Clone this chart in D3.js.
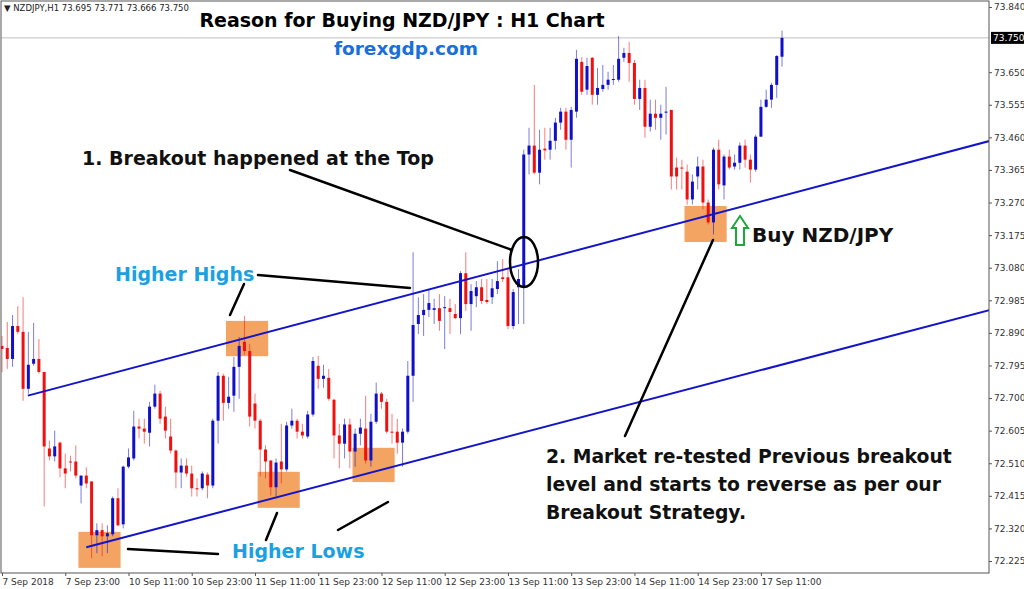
<!DOCTYPE html>
<html><head><meta charset="utf-8">
<script src="https://cdn.jsdelivr.net/npm/d3@7"></script>
<style>body{margin:0;background:#fff}svg{display:block}</style>
</head><body><svg id="c" width="1024" height="589"></svg>
<script>
const open=[72.852,72.846,72.814,72.910,72.893,72.727,72.800,72.814,72.776,72.553,72.530,72.570,72.495,72.515,72.515,72.445,72.474,72.457,72.300,72.315,72.297,72.303,72.408,72.332,72.500,72.524,72.617,72.611,72.599,72.675,72.713,72.646,72.588,72.547,72.483,72.503,72.480,72.437,72.437,72.477,72.445,72.634,72.765,72.686,72.707,72.791,72.864,72.837,72.684,72.634,72.550,72.518,72.440,72.515,72.492,72.620,72.634,72.602,72.588,72.652,72.794,72.756,72.759,72.695,72.591,72.567,72.623,72.544,72.596,72.611,72.518,72.631,72.713,72.689,72.602,72.602,72.570,72.602,72.765,72.916,72.942,72.957,72.957,72.962,72.962,72.962,72.945,72.933,73.064,72.974,72.997,73.023,72.986,72.994,73.018,73.052,73.052,72.910,73.023,73.026,73.410,73.436,73.357,73.427,73.424,73.450,73.503,73.535,73.453,73.535,73.680,73.599,73.692,73.584,73.601,73.613,73.628,73.628,73.692,73.706,73.677,73.572,73.604,73.491,73.529,73.517,73.532,73.540,73.372,73.372,73.360,73.279,73.346,73.375,73.270,73.212,73.424,73.320,73.404,73.375,73.386,73.436,73.395,73.366,73.462,73.549,73.570,73.613,73.695];
const close=[72.843,72.814,72.910,72.893,72.727,72.797,72.814,72.776,72.559,72.530,72.559,72.495,72.480,72.513,72.474,72.474,72.451,72.300,72.315,72.297,72.306,72.408,72.329,72.500,72.527,72.617,72.611,72.602,72.675,72.713,72.640,72.605,72.547,72.483,72.503,72.480,72.437,72.435,72.480,72.445,72.634,72.765,72.686,72.704,72.791,72.852,72.837,72.646,72.634,72.550,72.515,72.440,72.512,72.492,72.620,72.634,72.602,72.591,72.652,72.808,72.756,72.765,72.698,72.591,72.567,72.623,72.544,72.596,72.614,72.518,72.631,72.713,72.689,72.602,72.599,72.570,72.602,72.765,72.913,72.942,72.957,72.977,72.962,72.925,72.965,72.951,72.933,73.064,72.974,73.012,73.023,72.983,72.980,73.020,73.041,73.047,72.910,73.009,73.047,73.410,73.436,73.357,73.424,73.422,73.450,73.503,73.535,73.453,73.540,73.689,73.593,73.668,73.584,73.604,73.613,73.628,73.630,73.689,73.706,73.677,73.572,73.604,73.491,73.529,73.517,73.529,73.535,73.346,73.346,73.369,73.279,73.331,73.375,73.270,73.212,73.424,73.323,73.404,73.372,73.386,73.436,73.395,73.366,73.462,73.549,73.570,73.613,73.697,73.750];
const high=[72.881,72.922,72.942,72.968,72.994,72.893,72.919,72.872,72.776,72.576,72.605,72.573,72.538,72.532,72.562,72.474,72.498,72.457,72.335,72.335,72.329,72.413,72.437,72.503,72.553,72.663,72.640,72.640,72.689,72.739,72.721,72.675,72.640,72.550,72.524,72.524,72.503,72.466,72.486,72.483,72.640,72.776,72.771,72.762,72.820,72.878,72.939,72.858,72.713,72.640,72.562,72.518,72.524,72.625,72.631,72.669,72.640,72.625,72.663,72.820,72.823,72.797,72.785,72.698,72.625,72.640,72.640,72.611,72.640,72.707,72.654,72.745,72.718,72.698,72.654,72.640,72.611,72.808,73.125,72.994,73.003,73.018,72.989,73.003,72.997,72.989,72.974,73.070,73.125,73.032,73.041,73.047,73.047,73.047,73.099,73.105,73.076,73.018,73.076,73.424,73.488,73.613,73.482,73.488,73.488,73.517,73.546,73.546,73.549,73.715,73.694,73.692,73.694,73.662,73.671,73.651,73.671,73.755,73.721,73.738,73.686,73.628,73.628,73.570,73.570,73.555,73.607,73.540,73.401,73.395,73.381,73.352,73.404,73.395,73.279,73.430,73.453,73.410,73.424,73.410,73.445,73.453,73.410,73.468,73.570,73.599,73.619,73.700,73.771];
const low=[72.776,72.785,72.791,72.887,72.692,72.713,72.794,72.771,72.384,72.518,72.515,72.469,72.437,72.486,72.466,72.393,72.437,72.233,72.248,72.239,72.248,72.297,72.326,72.320,72.495,72.518,72.582,72.567,72.559,72.669,72.625,72.582,72.538,72.437,72.437,72.471,72.413,72.413,72.431,72.408,72.437,72.567,72.634,72.669,72.660,72.698,72.826,72.617,72.611,72.471,72.466,72.416,72.413,72.451,72.486,72.611,72.582,72.582,72.582,72.646,72.727,72.730,72.692,72.524,72.495,72.524,72.495,72.500,72.562,72.509,72.500,72.625,72.669,72.596,72.567,72.538,72.500,72.596,72.689,72.887,72.881,72.936,72.916,72.896,72.843,72.887,72.930,72.887,72.954,72.896,72.965,72.974,72.974,72.974,73.003,73.038,72.901,72.901,72.916,72.916,73.352,73.352,73.323,73.395,73.395,73.424,73.482,73.424,73.372,73.517,73.584,73.584,73.555,73.555,73.593,73.599,73.613,73.622,73.680,73.622,73.555,73.540,73.459,73.477,73.482,73.453,73.468,73.308,73.308,73.308,73.264,73.264,73.308,73.250,73.206,73.177,73.308,73.279,73.366,73.366,73.366,73.372,73.328,73.360,73.462,73.546,73.546,73.575,73.666];
const priceTicks=[73.840,73.650,73.555,73.460,73.365,73.270,73.175,73.080,72.985,72.890,72.795,72.700,72.605,72.510,72.415,72.320,72.225];
const timeLabels=["7 Sep 2018","7 Sep 23:00","10 Sep 11:00","10 Sep 23:00","11 Sep 11:00","11 Sep 23:00","12 Sep 11:00","12 Sep 23:00","13 Sep 11:00","13 Sep 23:00","14 Sep 11:00","14 Sep 23:00","17 Sep 11:00"];
const lastPrice=73.750;
// channel lines: [barIndex, price]
const upperLine=[[4.9,72.707],[190,73.460]];
const lowerLine=[[16,72.265],[190,72.967]];
// highlight zones [barFrom, barTo, priceTop, priceBottom]
const zones=[[42.5,50.5,72.925,72.822],[48.5,56.5,72.485,72.380],[66.5,74.5,72.555,72.455],[14.5,22.5,72.310,72.205],[129.5,137.5,73.260,73.155]];

const svg=d3.select("#c");
const L=1,R=989,T=1,B=573;
const x=d3.scaleLinear().domain([0,148]).range([2,782]);
const y=d3.scaleLinear().domain([72.225,73.840]).range([561,7]);
const g=svg.append("g");
g.append("defs").append("clipPath").attr("id","cp").append("rect").attr("x",L).attr("y",T).attr("width",R-L).attr("height",B-T);
const P=g.append("g").attr("clip-path","url(#cp)");

P.append("line").attr("x1",L).attr("x2",R).attr("y1",y(lastPrice)).attr("y2",y(lastPrice)).attr("stroke","#c0c0c0");

zones.forEach(z=>P.append("rect").attr("x",x(z[0])).attr("width",x(z[1])-x(z[0])).attr("y",y(z[2])).attr("height",y(z[3])-y(z[2])).attr("fill","#f3a463"));

const idx=d3.range(open.length);
const col=i=>close[i]>=open[i]?"#1010c8":"#f01010";
P.selectAll("line.w").data(idx).join("line").attr("x1",i=>x(i)).attr("x2",i=>x(i)).attr("y1",i=>y(high[i])).attr("y2",i=>y(low[i])).attr("stroke",col).attr("stroke-opacity",0.55).attr("stroke-width",1);
P.selectAll("rect.b").data(idx).join("rect").attr("x",i=>x(i)-1.5).attr("width",3).attr("y",i=>y(Math.max(open[i],close[i]))).attr("height",i=>Math.max(1,Math.abs(y(open[i])-y(close[i])))).attr("fill",col);

const ln=d3.line().x(d=>x(d[0])).y(d=>y(d[1]));
[upperLine,lowerLine].forEach(l=>P.append("path").attr("d",ln(l)).attr("stroke","#1414c8").attr("stroke-width",2).attr("fill","none"));

g.append("rect").attr("x",L).attr("y",T).attr("width",R-L).attr("height",B-T).attr("fill","none").attr("stroke","#555");

const ya=g.append("g").attr("transform",`translate(${R},0)`).call(d3.axisRight(y).tickValues(priceTicks).tickFormat(d3.format(".3f")).tickSize(3).tickPadding(2));
ya.select(".domain").remove();
ya.selectAll("text").attr("font-family","DejaVu Sans").attr("font-size",9).attr("fill","#333");
ya.selectAll("line").attr("stroke","#555");
g.append("rect").attr("x",R+2).attr("y",y(lastPrice)-6).attr("width",34).attr("height",12).attr("fill","#000");
g.append("text").attr("x",R+4).attr("y",y(lastPrice)+3.5).attr("font-family","DejaVu Sans").attr("font-size",9).attr("fill","#fff").text(d3.format(".3f")(lastPrice));

const tickIdx=timeLabels.map((d,k)=>k*12);
const xa=g.append("g").attr("transform",`translate(0,${B})`).call(d3.axisBottom(x).tickValues(tickIdx).tickFormat((d,k)=>timeLabels[k]).tickSize(3).tickPadding(3));
xa.select(".domain").remove();
xa.selectAll("text").attr("text-anchor","start").attr("font-family","DejaVu Sans").attr("font-size",9).attr("fill","#333");
xa.selectAll("line").attr("stroke","#555");

g.append("text").attr("x",4).attr("y",11).attr("font-family","DejaVu Sans").attr("font-size",8.5).attr("fill","#222").text("▼ NZDJPY,H1  73.695 73.771 73.666 73.750");

const F="'DejaVu Sans', Verdana, sans-serif";
function txt(s,xx,yy,sz,fill,anchor){return g.append("text").attr("x",xx).attr("y",yy).attr("font-family",F).attr("font-weight","bold").attr("font-size",sz).attr("fill",fill).attr("text-anchor",anchor||"start").text(s);}
function seg(a,b,c,d,w){g.append("line").attr("x1",a).attr("y1",b).attr("x2",c).attr("y2",d).attr("stroke","#000").attr("stroke-width",w||2.5).attr("stroke-linecap","round");}
txt("Reason for Buying NZD/JPY : H1 Chart",402,27,19,"#000","middle");
txt("forexgdp.com",406,55,18.5,"#1a6fd8","middle");
txt("1. Breakout happened at the Top",82,165,19,"#111");
txt("Higher Highs",115,281,19,"#1ba1e2");
txt("Higher Lows",232,558,19,"#1ba1e2");
txt("Buy NZD/JPY",752,242,20,"#111");
["2. Market re-tested Previous breakout","level and starts to reverse as per our","Breakout Strategy."].forEach((s,k)=>txt(s,546,463+k*28,18.8,"#111"));
seg(290,170,512,250);
seg(258,275,410,288);
seg(244,284,230,315);
seg(128,549,218,554);
seg(277,513,266,540);
seg(338,530,388,502);
seg(713,240,625,436);
g.append("ellipse").attr("cx",524).attr("cy",262).attr("rx",14).attr("ry",25).attr("fill","none").attr("stroke","#000").attr("stroke-width",2.5);
g.append("path").attr("d","M740,216 L748,228 L744,228 L744,245 L736,245 L736,228 L732,228 Z").attr("fill","#fff").attr("stroke","#1fa83a").attr("stroke-width",2);
</script></body></html>
